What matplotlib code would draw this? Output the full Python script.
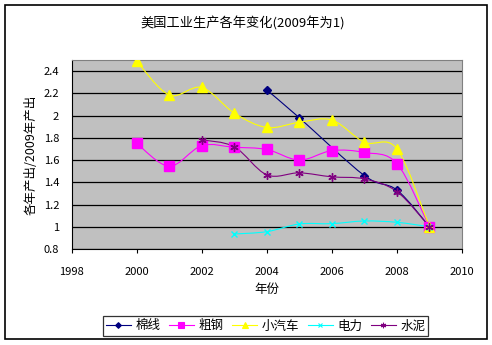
import matplotlib
matplotlib.use('Agg')
import matplotlib.pyplot as plt
import numpy as np
from matplotlib.path import Path
from matplotlib.patches import PathPatch, Rectangle
from matplotlib.lines import Line2D

plt.rcParams['font.family'] = ['Noto Sans CJK SC', 'DejaVu Sans']

# data
cotton_years = [2004, 2005, 2007, 2008, 2009]
cotton = [2.23, 1.98, 1.46, 1.33, 1.0]
steel_years = [2000, 2001, 2002, 2003, 2004, 2005, 2006, 2007, 2008, 2009]
steel = [1.75, 1.545, 1.73, 1.715, 1.695, 1.60, 1.685, 1.668, 1.568, 1.0]
car_years = [2000, 2001, 2002, 2003, 2004, 2005, 2006, 2007, 2008, 2009]
car = [2.487, 2.185, 2.253, 2.022, 1.893, 1.94, 1.96, 1.76, 1.70, 1.0]
power_years = [2003, 2004, 2005, 2006, 2007, 2008, 2009]
power = [0.935, 0.956, 1.025, 1.028, 1.052, 1.04, 1.0]
cement_years = [2002, 2003, 2004, 2005, 2006, 2007, 2008, 2009]
cement = [1.782, 1.719, 1.467, 1.485, 1.449, 1.43, 1.316, 1.0]

series = [
    ('棉线', cotton_years, cotton, '#000080', 'D', 4.5),
    ('粗钢', steel_years, steel, '#FF00FF', 's', 6.5),
    ('小汽车', car_years, car, '#FFFF00', '^', 6.5),
    ('电力', power_years, power, '#00FFFF', 'x', 5),
    ('水泥', cement_years, cement, '#800080', (6, 2, 0), 6),
]


def smooth_path(xs, ys):
    # excel style smoothed line: cubic bezier through the points
    p = np.column_stack([xs, ys]).astype(float)
    n = len(p)
    verts = [p[0]]
    codes = [Path.MOVETO]
    for i in range(n - 1):
        p0 = p[i - 1] if i > 0 else p[i]
        p1 = p[i]
        p2 = p[i + 1]
        p3 = p[i + 2] if i + 2 < n else p[i + 1]
        c1 = p1 + (p2 - p0) / 6.0
        c2 = p2 - (p3 - p1) / 6.0
        verts += [c1, c2, p2]
        codes += [Path.CURVE4] * 3
    return Path(verts, codes)


fig = plt.figure(figsize=(4.92, 3.45), dpi=100)
ax = fig.add_axes([71.7 / 492, 1 - 249 / 345, (462 - 71.7) / 492, (249 - 60) / 345])
ax.set_facecolor('#C0C0C0')

handles = []
for name, xs, ys, col, mk, ms in series:
    ax.add_patch(PathPatch(smooth_path(xs, ys), facecolor='none', edgecolor=col,
                           lw=0.8, zorder=3, transform=ax.transData))
    ax.plot(xs, ys, linestyle='none', marker=mk, color=col, markersize=ms,
            markeredgewidth=1.0, zorder=4)
    handles.append(Line2D([], [], color=col, lw=0.8, marker=mk,
                          markersize=ms * 0.65, markeredgewidth=0.8, label=name))

ax.set_xlim(1998, 2010)
ax.set_ylim(0.8, 2.5)
ax.set_xticks(np.arange(1998, 2011, 2))
ax.set_yticks(np.round(np.arange(0.8, 2.41, 0.2), 1))
ax.set_yticklabels(['0.8', '1', '1.2', '1.4', '1.6', '1.8', '2', '2.2', '2.4'])
ax.yaxis.grid(True, color='black', lw=0.9)
ax.set_axisbelow(True)
ax.tick_params(axis='x', direction='out', length=3, pad=10, labelsize=8, width=0.8)
ax.tick_params(axis='y', direction='out', length=0, pad=9, labelsize=8)
for s in ['top', 'right']:
    ax.spines[s].set_color('#808080')
for s in ['left', 'bottom']:
    ax.spines[s].set_color('black')

ax.set_xlabel('年份', fontsize=9, labelpad=4)
ax.set_ylabel('各年产出/2009年产出', fontsize=9, labelpad=4)
fig.text(243 / 492, 1 - 23 / 345, '美国工业生产各年变化(2009年为1)', ha='center', va='center', fontsize=9.5)

leg = fig.legend(handles=handles, loc='center', bbox_to_anchor=(265.5 / 492, 1 - 326 / 345),
                 ncol=5, fontsize=9, frameon=True, fancybox=False, handlelength=2.0,
                 handletextpad=0.35, columnspacing=0.7, borderpad=0.25)
leg.get_frame().set_edgecolor('black')
leg.get_frame().set_linewidth(0.9)

fig.patches.append(Rectangle((5 / 492, 1 - 339 / 345), 482 / 492, 334 / 345,
                             transform=fig.transFigure, fill=False, edgecolor='black', lw=1.2))

fig.savefig('out.png', dpi=100)
